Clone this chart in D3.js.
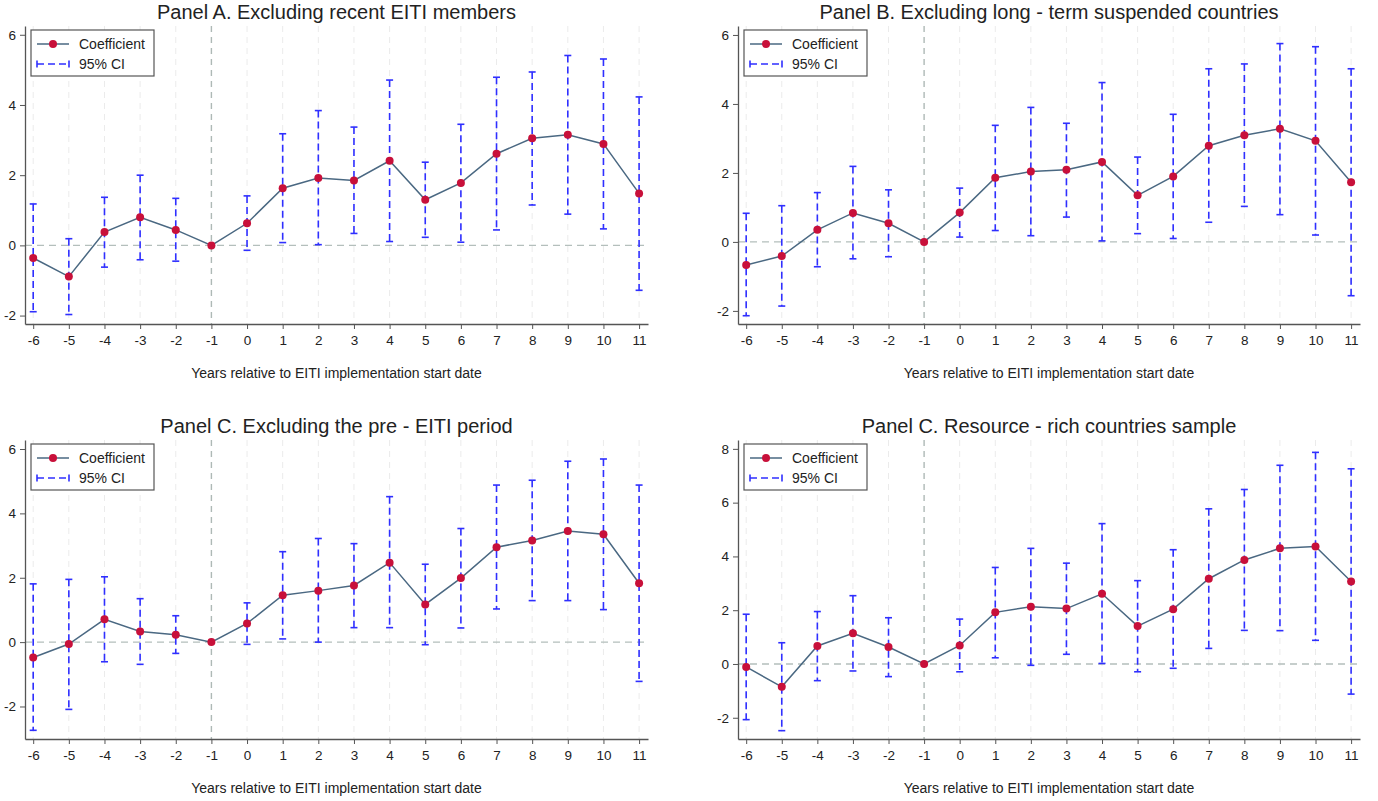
<!DOCTYPE html>
<html>
<head>
<meta charset="utf-8">
<title>EITI event study - robustness</title>
<script src="https://cdn.jsdelivr.net/npm/d3@7"></script>
<style>
	body { margin: 0; background: #fff; }
	text { font-family: "Liberation Sans", Arial, sans-serif; fill: #222; }
</style>
</head>
<body>
<div id="chart"></div>
<script>

// years relative to start date
var years = [-6, -5, -4, -3, -2, -1, 0, 1, 2, 3, 4, 5, 6, 7, 8, 9, 10, 11];

// Panel A. Excluding recent EITI members
var coefA = [-0.36, -0.89, 0.38, 0.80, 0.44, 0, 0.63, 1.63, 1.92, 1.85, 2.41, 1.30, 1.78, 2.61, 3.05, 3.15, 2.89, 1.48];
var hiA   = [1.18, 0.19, 1.37, 2.00, 1.34, 0, 1.41, 3.18, 3.84, 3.37, 4.71, 2.37, 3.45, 4.79, 4.94, 5.41, 5.31, 4.23];
var loA   = [-1.89, -1.97, -0.62, -0.41, -0.45, 0, -0.14, 0.08, 0.02, 0.34, 0.11, 0.23, 0.09, 0.44, 1.15, 0.89, 0.47, -1.28];

// Panel B. Excluding long-term suspended countries
var coefB = [-0.67, -0.41, 0.35, 0.84, 0.54, 0, 0.85, 1.86, 2.04, 2.09, 2.32, 1.35, 1.90, 2.79, 3.09, 3.28, 2.93, 1.73];
var hiB   = [0.83, 1.05, 1.43, 2.19, 1.51, 0, 1.56, 3.38, 3.90, 3.44, 4.62, 2.46, 3.70, 5.02, 5.16, 5.75, 5.66, 5.02];
var loB   = [-2.14, -1.86, -0.72, -0.49, -0.43, 0, 0.14, 0.33, 0.18, 0.72, 0.03, 0.24, 0.10, 0.57, 1.03, 0.79, 0.20, -1.56];

// Panel C. Excluding the pre-EITI period
var coefC = [-0.48, -0.06, 0.71, 0.33, 0.23, 0, 0.58, 1.46, 1.60, 1.76, 2.47, 1.17, 1.99, 2.95, 3.16, 3.45, 3.35, 1.83];
var hiC   = [1.81, 1.95, 2.03, 1.35, 0.82, 0, 1.22, 2.81, 3.22, 3.06, 4.52, 2.42, 3.53, 4.88, 5.03, 5.62, 5.69, 4.88];
var loC   = [-2.74, -2.09, -0.61, -0.69, -0.35, 0, -0.07, 0.10, 0.00, 0.45, 0.45, -0.08, 0.44, 1.03, 1.29, 1.29, 1.01, -1.22];

// Panel C (2nd). Resource-rich countries sample
var coefD = [-0.11, -0.85, 0.67, 1.14, 0.63, 0, 0.69, 1.92, 2.13, 2.06, 2.61, 1.41, 2.04, 3.17, 3.87, 4.30, 4.37, 3.07];
var hiD   = [1.85, 0.79, 1.95, 2.54, 1.72, 0, 1.67, 3.59, 4.30, 3.75, 5.22, 3.10, 4.25, 5.77, 6.49, 7.39, 7.87, 7.26];
var loD   = [-2.07, -2.48, -0.62, -0.26, -0.47, 0, -0.29, 0.23, -0.05, 0.36, 0.02, -0.29, -0.16, 0.58, 1.25, 1.24, 0.88, -1.12];

var titles = [
	"Panel A. Excluding recent EITI members",
	"Panel B. Excluding long - term suspended countries",
	"Panel C. Excluding the pre - EITI period",
	"Panel C. Resource - rich countries sample"
];
var yTicks = [[-2, 0, 2, 4, 6], [-2, 0, 2, 4, 6], [-2, 0, 2, 4, 6], [-2, 0, 2, 4, 6, 8]];
var yDomains = [[-2.24, 6.25], [-2.38, 6.26], [-3.01, 6.28], [-2.79, 8.33]];
var xLabel = "Years relative to EITI implementation start date";

var lineCol = "#4a6882", dotCol = "#c8103a", ciCol = "#2f2fff";

var W = 1378, H = 801;
var svg = d3.select("#chart").append("svg")
	.attr("width", W)
	.attr("height", H);

// plot boxes: left, right, top, bottom
var boxes = [
	{x0: 25, x1: 648, y0: 26, y1: 324},
	{x0: 738, x1: 1360, y0: 26, y1: 324},
	{x0: 25, x1: 648, y0: 440, y1: 739},
	{x0: 738, x1: 1360, y0: 440, y1: 739}
];

var panels = [
	{coef: coefA, hi: hiA, lo: loA},
	{coef: coefB, hi: hiB, lo: loB},
	{coef: coefC, hi: hiC, lo: loC},
	{coef: coefD, hi: hiD, lo: loD}
];

// plain hyphen for negatives, like the original
var fmt = function(d) { return String(d); };

panels.forEach(function(p, i) {
	var b = boxes[i];
	var g = svg.append("g");

	var x = d3.scaleLinear().domain([-6.23, 11.25]).range([b.x0, b.x1]);
	var y = d3.scaleLinear().domain(yDomains[i]).range([b.y1, b.y0]);

	var rows = years.map(function(yr, k) {
		return {yr: yr, c: p.coef[k], hi: p.hi[k], lo: p.lo[k]};
	});

	// vertical grid at each year
	g.selectAll(".vgrid")
		.data(years)
		.enter()
		.append("line")
		.attr("x1", function(d) { return x(d); })
		.attr("x2", function(d) { return x(d); })
		.attr("y1", b.y0)
		.attr("y2", b.y1)
		.attr("stroke", function(d) { return d === -1 ? "#aeb9b6" : "#ebebeb"; })
		.attr("stroke-width", function(d) { return d === -1 ? 1.4 : 1; })
		.attr("stroke-dasharray", "6,5");

	// zero line
	g.append("line")
		.attr("x1", b.x0)
		.attr("x2", b.x1)
		.attr("y1", y(0))
		.attr("y2", y(0))
		.attr("stroke", "#b4bfbc")
		.attr("stroke-width", 1.3)
		.attr("stroke-dasharray", "7,5");

	// CI whiskers
	var ci = rows.filter(function(d) { return d.yr !== -1; });
	g.selectAll(".ci")
		.data(ci)
		.enter()
		.append("line")
		.attr("x1", function(d) { return x(d.yr); })
		.attr("x2", function(d) { return x(d.yr); })
		.attr("y1", function(d) { return y(d.hi); })
		.attr("y2", function(d) { return y(d.lo); })
		.attr("stroke", ciCol)
		.attr("stroke-width", 1.6)
		.attr("stroke-dasharray", "7,4");

	["hi", "lo"].forEach(function(k) {
		g.selectAll(".cap-" + k)
			.data(ci)
			.enter()
			.append("line")
			.attr("x1", function(d) { return x(d.yr) - 3.5; })
			.attr("x2", function(d) { return x(d.yr) + 3.5; })
			.attr("y1", function(d) { return y(d[k]); })
			.attr("y2", function(d) { return y(d[k]); })
			.attr("stroke", ciCol)
			.attr("stroke-width", 1.6);
	});

	// coefficient line
	g.append("path")
		.datum(rows)
		.attr("fill", "none")
		.attr("stroke", lineCol)
		.attr("stroke-width", 1.5)
		.attr("d", d3.line()
			.x(function(d) { return x(d.yr); })
			.y(function(d) { return y(d.c); }));

	g.selectAll(".dot")
		.data(rows)
		.enter()
		.append("circle")
		.attr("cx", function(d) { return x(d.yr); })
		.attr("cy", function(d) { return y(d.c); })
		.attr("r", 4)
		.attr("fill", dotCol);

	// axes
	var xAx = g.append("g")
		.attr("transform", "translate(0," + b.y1 + ")")
		.call(d3.axisBottom(x).tickValues(years).tickFormat(fmt).tickSize(5).tickPadding(6).tickSizeOuter(0));
	var yAx = g.append("g")
		.attr("transform", "translate(" + b.x0 + ",0)")
		.call(d3.axisLeft(y).tickValues(yTicks[i]).tickFormat(fmt).tickSize(5).tickPadding(4).tickSizeOuter(0));
	[xAx, yAx].forEach(function(a) {
		a.select(".domain").attr("stroke", "#555").attr("stroke-width", 1.3);
		a.selectAll(".tick line").attr("stroke", "#555");
		a.selectAll(".tick text")
			.attr("font-family", "Liberation Sans, Arial, sans-serif")
			.attr("font-size", "13.5px")
			.attr("fill", "#222");
	});

	// title
	g.append("text")
		.attr("x", (b.x0 + b.x1) / 2)
		.attr("y", b.y0 - 7)
		.attr("text-anchor", "middle")
		.attr("font-size", "20px")
		.text(titles[i]);

	// x axis title
	g.append("text")
		.attr("x", (b.x0 + b.x1) / 2)
		.attr("y", b.y1 + 54)
		.attr("text-anchor", "middle")
		.attr("font-size", "14px")
		.text(xLabel);

	// legend
	var lg = g.append("g")
		.attr("transform", "translate(" + (b.x0 + 6) + "," + (b.y0 + 4) + ")");
	lg.append("rect")
		.attr("width", 123)
		.attr("height", 46)
		.attr("fill", "#fff")
		.attr("stroke", "#555")
		.attr("stroke-width", 1.2);
	lg.append("line")
		.attr("x1", 6).attr("x2", 38).attr("y1", 14).attr("y2", 14)
		.attr("stroke", lineCol).attr("stroke-width", 1.5);
	lg.append("circle")
		.attr("cx", 22).attr("cy", 14).attr("r", 4).attr("fill", dotCol);
	lg.append("text")
		.attr("x", 48).attr("y", 19)
		.attr("font-size", "14px")
		.text("Coefficient");
	lg.append("line")
		.attr("x1", 6).attr("x2", 38).attr("y1", 34).attr("y2", 34)
		.attr("stroke", ciCol).attr("stroke-width", 1.6)
		.attr("stroke-dasharray", "7,4");
	[6, 38].forEach(function(cx) {
		lg.append("line")
			.attr("x1", cx).attr("x2", cx).attr("y1", 30.5).attr("y2", 37.5)
			.attr("stroke", ciCol).attr("stroke-width", 1.6);
	});
	lg.append("text")
		.attr("x", 48).attr("y", 39)
		.attr("font-size", "14px")
		.text("95% CI");
});

</script>
</body>
</html>
